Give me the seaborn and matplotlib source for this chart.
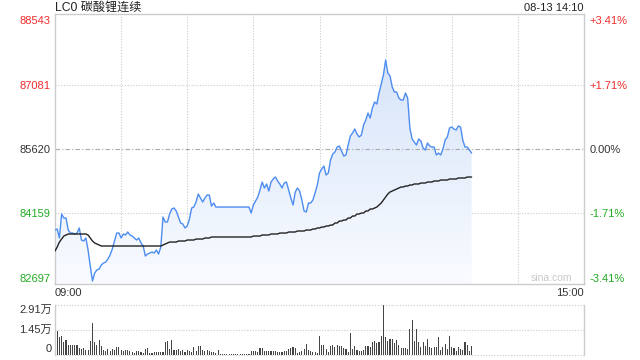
import numpy as np
import matplotlib
matplotlib.use("Agg")
import matplotlib.pyplot as plt
import seaborn as sns
from matplotlib.colors import LinearSegmentedColormap

# ---------------- data ----------------
title = "LC0 碳酸锂连续"
stamp = "08-13 14:10"
prev_close = 85620
price_ticks = [82697, 84159, 85620, 87081, 88543]
pct_labels = ["-3.41%", "-1.71%", "0.00%", "+1.71%", "+3.41%"]
time_labels = ["09:00", "15:00"]
vol_ticks = [0, 14550, 29100]
vol_labels = ["0", "1.45万", "2.91万"]
total_slots = 240

price = [
    83784, 83807, 83603, 84147, 84056, 84056, 83784, 83716, 83716, 83694,
    83716, 83830, 83558, 83535, 83603, 83331, 82968, 82629, 82810, 82878,
    82900, 82991, 83036, 83059, 83127, 83218, 83354, 83535, 83716, 83716,
    83603, 83694, 83671, 83739, 83671, 83648, 83603, 83558, 83603, 83490,
    83422, 83195, 83240, 83263, 83286, 83263, 83331, 83240, 83399, 84079,
    83965, 83965, 84147, 84260, 84283, 84215, 84079, 83943, 83920, 83830,
    83875, 84033, 84283, 84305, 84419, 84600, 84509, 84419, 84509, 84577,
    84577, 84328, 84396, 84305, 84305, 84305, 84305, 84305, 84305, 84305,
    84305, 84305, 84305, 84305, 84305, 84305, 84305, 84305, 84305, 84169,
    84351, 84441, 84532, 84691, 84872, 84736, 84827, 84668, 84872, 84940,
    84985, 84895, 84827, 84736, 84849, 84872, 84691, 84509, 84351, 84645,
    84736, 84668, 84464, 84215, 84192, 84396, 84396, 84464, 84623, 84804,
    85076, 85166, 85234, 85030, 85076, 85370, 85506, 85552, 85665, 85688,
    85574, 85461, 85484, 85710, 85914, 85982, 86073, 85960, 85892, 85937,
    86163, 86277, 86435, 86322, 86549, 86685, 86639, 86889, 87093, 87296,
    87636, 87342, 87274, 87025, 86911, 86911, 86775, 86730, 86730, 86889,
    86775, 86096, 85846, 85778, 85710, 85846, 85801, 85642, 85597, 85756,
    85688, 85665, 85665, 85484, 85529, 85484, 85620, 85824, 85892, 86096,
    86118, 86073, 86050, 86141, 86118, 85824, 85665, 85665, 85597, 85529,
]

avg_price = [
    83308, 83399, 83512, 83580, 83648, 83671, 83694, 83694, 83694, 83694,
    83694, 83694, 83694, 83694, 83694, 83671, 83603, 83535, 83490, 83467,
    83444, 83422, 83422, 83422, 83422, 83422, 83422, 83422, 83422, 83422,
    83422, 83422, 83422, 83422, 83422, 83422, 83422, 83422, 83422, 83422,
    83422, 83422, 83422, 83422, 83422, 83422, 83422, 83422, 83422, 83444,
    83467, 83490, 83512, 83512, 83512, 83512, 83535, 83535, 83535, 83535,
    83558, 83558, 83558, 83558, 83580, 83580, 83580, 83580, 83603, 83603,
    83603, 83626, 83626, 83626, 83626, 83626, 83626, 83626, 83626, 83626,
    83626, 83626, 83626, 83626, 83626, 83626, 83626, 83626, 83626, 83626,
    83648, 83648, 83648, 83648, 83671, 83671, 83671, 83671, 83694, 83694,
    83694, 83694, 83716, 83716, 83716, 83716, 83739, 83739, 83739, 83739,
    83762, 83762, 83762, 83762, 83784, 83784, 83784, 83807, 83807, 83830,
    83830, 83852, 83852, 83875, 83875, 83897, 83897, 83943, 83943, 83988,
    83988, 84011, 84011, 84056, 84056, 84101, 84101, 84147, 84147, 84169,
    84169, 84215, 84215, 84260, 84260, 84283, 84305, 84351, 84396, 84464,
    84532, 84600, 84645, 84668, 84691, 84713, 84736, 84759, 84759, 84781,
    84781, 84804, 84804, 84827, 84827, 84827, 84849, 84849, 84849, 84872,
    84872, 84872, 84895, 84895, 84895, 84917, 84917, 84917, 84917, 84940,
    84940, 84940, 84940, 84963, 84963, 84963, 84963, 84985, 84985, 84985,
]

volume = [
    29100, 14200, 10700, 11000, 7400, 8700, 6000, 6000, 5600, 5600,
    5600, 4100, 3700, 4100, 3100, 3100, 8000, 18800, 7400, 6000,
    8900, 5400, 2900, 2500, 3500, 2500, 3500, 3100, 4800, 4800,
    3100, 2500, 3100, 2900, 2500, 1900, 1400, 2100, 2500, 1600,
    1200, 3500, 4100, 1400, 1000, 1600, 1600, 1600, 1900, 1600,
    7400, 8000, 3500, 8900, 3100, 3100, 3500, 2500, 3100, 1600,
    3100, 2100, 1900, 4500, 2500, 5400, 5400, 3100, 2500, 3100,
    2500, 1600, 1600, 1200, 3100, 300, 300, 300, 300, 300,
    300, 300, 300, 300, 300, 300, 300, 300, 300, 2500,
    2100, 2100, 1900, 4100, 4100, 2500, 2500, 2100, 2500, 2500,
    2100, 1900, 1600, 1600, 2500, 2500, 3500, 3900, 4500, 3900,
    1200, 1600, 2500, 3500, 6400, 3100, 2500, 1600, 1900, 1200,
    11300, 5800, 5800, 3500, 1900, 5400, 5800, 4500, 5800, 5000,
    5000, 3900, 3500, 1900, 12600, 3500, 5400, 3100, 2500, 2500,
    3100, 5400, 5400, 4500, 7400, 8300, 7000, 7400, 11300, 29100,
    10700, 8000, 9300, 9300, 6800, 8700, 5800, 3900, 4100, 4100,
    3500, 15100, 20600, 8300, 15100, 7400, 4800, 7800, 5000, 9300,
    4800, 3900, 4500, 4800, 10700, 3100, 4800, 6400, 3500, 11300,
    4800, 3900, 2500, 4500, 3500, 2900, 7400, 5800, 2500, 5400,
]

# ---------------- style ----------------
sns.set_style("white")
plt.rcParams["font.family"] = ["Liberation Sans", "Noto Sans CJK SC", "DejaVu Sans"]

RED = "#f02c2c"
GREEN = "#22aa22"
DARK = "#333333"
GRID = "#cccccc"
LINE = "#4d8df0"
FS = 8

W, H = 640, 360
fig = plt.figure(figsize=(6.4, 3.6), dpi=100)
fig.patch.set_facecolor("white")

def frac(x0, y0, x1, y1):
    return [x0 / W, 1 - y1 / H, (x1 - x0) / W, (y1 - y0) / H]

ax = fig.add_axes(frac(55, 14, 584, 284))
axv = fig.add_axes(frac(55, 305, 584, 355))

idx = np.arange(len(price))
ymin, ymax = 82561, 88679

# gradient fill under the price line
poly = ax.fill_between(idx, price, ymin, facecolor="none", edgecolor="none")
cmap = LinearSegmentedColormap.from_list("g", ["#f9fbff", "#d0e0f8"])
grad = np.linspace(1, 0, 256).reshape(-1, 1)
im = ax.imshow(grad, extent=(0, len(price) - 1, ymin, ymax), aspect="auto",
               cmap=cmap, origin="upper", zorder=1)
im.set_clip_path(poly.get_paths()[0], transform=ax.transData)

sns.lineplot(x=idx, y=price, ax=ax, color=LINE, linewidth=1.0, estimator=None, zorder=3)
sns.lineplot(x=idx, y=avg_price, ax=ax, color="#222222", linewidth=1.0, estimator=None, zorder=4)

ax.set_xlim(0, total_slots)
ax.set_ylim(ymin, ymax)

# grid lines
for k in range(1, 8):
    ax.axvline(total_slots * k / 8, color=GRID, lw=0.8, ls=(0, (1, 1.5)), zorder=0)
for t in price_ticks[1:-1]:
    if t == prev_close:
        ax.axhline(t, color="#aaaaaa", lw=0.8, ls=(0, (4, 2, 1, 2)), zorder=2)
    else:
        ax.axhline(t, color=GRID, lw=0.8, ls=(0, (1, 1.5)), zorder=0)

for s in ax.spines.values():
    s.set_color(GRID)
    s.set_linewidth(1)

def col(t):
    if t > prev_close:
        return RED
    if t < prev_close:
        return GREEN
    return DARK

ax.set_yticks(price_ticks)
ax.set_yticklabels([str(t) for t in price_ticks], fontsize=FS)
for lab, t in zip(ax.get_yticklabels(), price_ticks):
    lab.set_color(col(t))
ax.tick_params(axis="y", length=0, pad=3)
ax.set_xticks([])
ax.set_xlabel("")
ax.set_ylabel("")

ax2 = ax.twinx()
ax2.set_ylim(ymin, ymax)
ax2.set_yticks(price_ticks)
ax2.set_yticklabels(pct_labels, fontsize=FS)
for lab, t in zip(ax2.get_yticklabels(), price_ticks):
    lab.set_color(col(t))
ax2.tick_params(axis="y", length=0, pad=4)
for s in ax2.spines.values():
    s.set_visible(False)
ax2.grid(False)

ax.text(0, -0.032, time_labels[0], transform=ax.transAxes, ha="left", va="center",
        fontsize=FS, color=DARK)
ax.text(1, -0.032, time_labels[1], transform=ax.transAxes, ha="right", va="center",
        fontsize=FS, color=DARK)
ax.text(0.978, 0.022, "sina.com", transform=ax.transAxes, ha="right", va="center",
        fontsize=7.5, color="#c8c8c8")

fig.text(55 / W, 1 - 8 / H, title, ha="left", va="center", fontsize=8.7, color="#222222")
fig.text(584 / W, 1 - 8 / H, stamp, ha="right", va="center", fontsize=FS, color="#222222")

# volume panel
sns.barplot(x=idx, y=volume, ax=axv, native_scale=True, color="#444444",
            width=0.5, errorbar=None, saturation=1, linewidth=0)
axv.set_xlim(0, total_slots)
axv.set_ylim(0, vol_ticks[-1])
for t in vol_ticks:
    axv.axhline(t, color=GRID, lw=0.8, ls=(0, (1, 1.5)), zorder=0, clip_on=False)
for name, s in axv.spines.items():
    if name in ("left", "right"):
        s.set_color(GRID)
        s.set_linewidth(1)
    else:
        s.set_visible(False)
axv.set_xticks([])
axv.set_yticks([])
axv.set_xlabel("")
axv.set_ylabel("")
axv.text(-0.006, 1.0, vol_labels[2], transform=axv.transAxes, ha="right", va="top",
         fontsize=FS, color=DARK)
axv.text(-0.006, 0.5, vol_labels[1], transform=axv.transAxes, ha="right", va="center",
         fontsize=FS, color=DARK)
axv.text(-0.006, 0.02, vol_labels[0], transform=axv.transAxes, ha="right", va="bottom",
         fontsize=FS, color=DARK)

fig.savefig("out.png", dpi=100)
